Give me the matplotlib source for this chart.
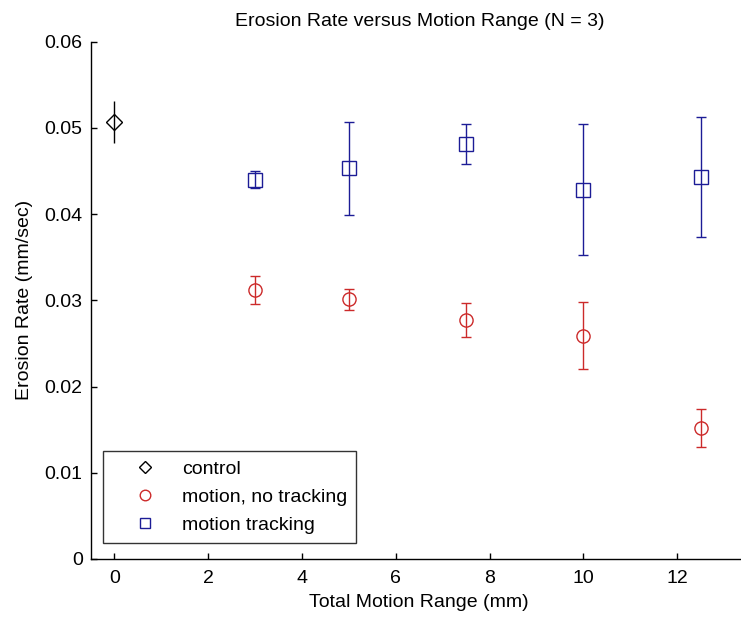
import matplotlib
matplotlib.use("Agg")
import matplotlib.pyplot as plt

plt.rcParams['font.family'] = ['Liberation Sans', 'DejaVu Sans']

# Data
control_x = [0]
control_y = [0.0507]
control_err = [0.0024]

notrack_x = [3, 5, 7.5, 10, 12.5]
notrack_y = [0.0312, 0.0301, 0.0277, 0.0259, 0.0152]
notrack_err = [0.0016, 0.0012, 0.0020, 0.0039, 0.0022]

track_x = [3, 5, 7.5, 10, 12.5]
track_y = [0.0440, 0.0453, 0.0481, 0.0428, 0.0443]
track_err = [0.0010, 0.0054, 0.0023, 0.0076, 0.0070]

xticks = [0, 2, 4, 6, 8, 10, 12]
yticks = [0, 0.01, 0.02, 0.03, 0.04, 0.05, 0.06]
ytick_labels = ['0', '0.01', '0.02', '0.03', '0.04', '0.05', '0.06']

navy = '#1c1c96'
red = '#cc2a2a'
fs = 14

fig = plt.figure(figsize=(7.41, 6.22), dpi=100)
ax = fig.add_axes([0.1228, 0.1013, 0.886, 0.8317])

e0 = ax.errorbar(control_x, control_y, yerr=control_err, fmt='D', color='black',
                 mfc='none', mec='black', ms=8, mew=1.0, elinewidth=1.0,
                 capsize=0, label='control')
e1 = ax.errorbar(notrack_x, notrack_y, yerr=notrack_err, fmt='o', color=red,
                 mfc='none', mec=red, ms=9.5, mew=1.0, elinewidth=1.0,
                 capsize=3.3, capthick=1.0, label='motion, no tracking')
e2 = ax.errorbar(track_x, track_y, yerr=track_err, fmt='s', color=navy,
                 mfc='none', mec=navy, ms=9.5, mew=1.0, elinewidth=1.0,
                 capsize=3.3, capthick=1.0, label='motion tracking')

ax.set_xlim(-0.5, 13.5)
ax.set_ylim(0, 0.06)
ax.set_xticks(xticks)
ax.set_xticklabels([str(t) for t in xticks])
ax.set_yticks(yticks)
ax.set_yticklabels(ytick_labels)

for s in ['top', 'right']:
    ax.spines[s].set_visible(False)
for s in ['left', 'bottom']:
    ax.spines[s].set_linewidth(1.0)
ax.tick_params(direction='in', length=4, width=1.0, labelsize=fs)
ax.tick_params(axis='x', pad=8)
ax.tick_params(axis='y', pad=6)

ax.set_title('Erosion Rate versus Motion Range (N = 3)', fontsize=fs, pad=11)
ax.set_xlabel('Total Motion Range (mm)', fontsize=fs, labelpad=5)
ax.set_ylabel('Erosion Rate (mm/sec)', fontsize=fs, labelpad=8)

leg = ax.legend([e0[0], e1[0], e2[0]],
                ['control', 'motion, no tracking', 'motion tracking'],
                loc='lower left', bbox_to_anchor=(0.0183, 0.031),
                borderaxespad=0, fontsize=fs, frameon=True, fancybox=False,
                handletextpad=0.22, borderpad=0.45, labelspacing=0.55,
                handlelength=3.4, markerscale=0.8)
leg.get_frame().set_edgecolor('black')
leg.get_frame().set_linewidth(1.0)

fig.savefig('out.png', dpi=100)
